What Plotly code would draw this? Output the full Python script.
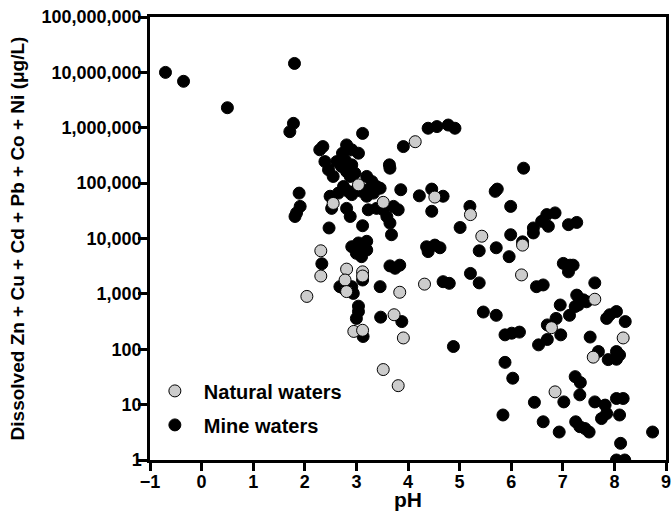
import plotly.graph_objects as go

# ---- Data ----
mine_ph = [
    -0.70, -0.35, 0.50, 1.80, 1.78, 1.71, 1.89, 1.91, 1.84, 1.81,
    2.35, 2.29, 3.12, 2.81, 2.91, 3.04, 2.73, 3.91, 2.39, 2.46,
    2.55, 2.62, 2.71, 2.78, 2.81, 2.91, 2.97, 2.88, 3.64, 3.65,
    3.20, 3.30, 3.39, 3.46, 3.33, 3.23, 2.75, 2.84, 2.65, 2.91,
    3.00, 3.10, 3.20, 3.86, 2.49, 2.52, 2.81, 2.88, 3.23, 3.39,
    3.52, 3.59, 3.65, 3.72, 3.81, 2.47, 3.12, 3.68, 2.91, 3.04,
    3.10, 3.20, 3.00, 3.13, 3.20, 3.10, 2.33, 3.65, 3.84, 3.75,
    2.68, 2.75, 2.91, 2.94, 3.12, 3.46, 3.04, 3.04, 3.00, 3.47,
    3.88, 3.13,
    4.22, 4.46, 4.68, 4.46, 4.39, 4.56, 4.78, 4.91, 4.36, 4.52,
    4.62, 4.39, 5.01, 5.20, 5.38, 5.71, 5.69, 5.73, 5.99, 5.99,
    5.96, 6.24, 6.22, 4.68, 4.80, 5.21, 5.38, 5.46, 5.71, 4.88,
    5.88, 6.01, 6.16, 5.88, 6.03, 5.84,
    6.43, 6.43, 6.59, 6.69, 6.85, 6.72, 7.11, 7.27, 6.49, 6.62,
    7.01, 7.14, 7.11, 7.20, 7.62, 6.95, 7.27, 7.33, 7.46, 7.40,
    7.30, 7.24, 7.13, 6.87, 6.70, 6.70, 6.53, 6.96, 7.85, 8.04,
    8.21, 7.91, 7.53, 7.69, 7.88, 8.04, 8.10, 8.04, 7.24, 7.34,
    7.33, 6.45, 7.02, 7.62, 7.82, 8.04, 8.17, 7.85, 7.75, 8.10,
    6.62, 6.93, 7.25, 7.33, 7.43, 7.51, 8.12, 8.04, 8.20, 8.74,
]
mine_conc = [
    10000000, 6900000, 2300000, 14500000, 1200000, 850000, 66000, 38000, 29000, 25000,
    457000, 400000, 790000, 490000, 400000, 347000, 347000, 457000, 245000, 174000,
    132000, 245000, 200000, 263000, 162000, 214000, 151000, 132000, 214000, 186000,
    132000, 107000, 87000, 81000, 66000, 76000, 87000, 71000, 66000, 62000,
    76000, 71000, 58000, 76000, 58000, 35000, 35000, 25000, 33000, 35000,
    33000, 25000, 19000, 38000, 33000, 15500, 17000, 11700, 7100, 8300,
    5800, 8900, 5400, 7600, 6200, 4700, 3500, 3200, 3300, 2900,
    1350, 1260, 1350, 1020, 1780, 1350, 600, 480, 360, 380,
    316, 170,
    59000, 78000, 58000, 31000, 980000, 1050000, 1120000, 980000, 7100, 7600,
    6800, 5800, 15800, 38000, 6000, 6800, 71000, 78000, 38000, 11700,
    4700, 186000, 8700, 1660, 1550, 2340, 1580, 470, 410, 112,
    182, 195, 204, 58, 30, 6.5,
    15500, 12600, 20400, 27000, 29000, 16600, 17800, 19500, 1350, 1450,
    3550, 3300, 2500, 3300, 1580, 630, 950, 780, 720, 780,
    630, 590, 410, 360, 275, 150, 120, 182, 360, 480,
    316, 420, 166, 91, 65, 66, 79, 91, 32, 25,
    15, 11, 11.2, 11.2, 9.8, 12.9, 12.9, 6.9, 5.6, 6.5,
    4.9, 3.2, 4.9, 4.0, 3.7, 3.2, 2.0, 1.0, 1.0, 3.2,
]

natural_ph = [
    2.55, 3.04, 3.52, 4.14, 4.52, 5.21, 5.43, 6.22, 2.31, 2.31,
    2.04, 2.81, 2.78, 2.81, 3.12, 3.12, 3.84, 4.32, 6.20, 3.73,
    3.91, 2.95, 3.12, 3.52, 3.81, 6.78, 6.85, 7.62, 7.59, 8.17,
]
natural_conc = [
    43000, 93000, 45000, 560000, 56000, 27000, 11000, 7600, 6000, 2100,
    900, 2800, 1780, 1100, 2500, 2100, 1070, 1500, 2200, 420,
    160, 210, 220, 43, 22, 245, 17, 800, 72, 160,
]

x_ticks = [-1, 0, 1, 2, 3, 4, 5, 6, 7, 8, 9]
y_ticks = [1, 10, 100, 1000, 10000, 100000, 1000000, 10000000, 100000000]
y_ticktext = ["1", "10", "100", "1,000", "10,000", "100,000",
              "1,000,000", "10,000,000", "100,000,000"]

FONT = "Liberation Sans, Arial, Helvetica, sans-serif"

fig = go.Figure()
fig.add_trace(go.Scatter(
    x=mine_ph, y=mine_conc, mode="markers", name="Mine waters",
    legendrank=2, legendgroup="m",
    marker=dict(size=12, color="black", line=dict(color="black", width=1)),
))
fig.add_trace(go.Scatter(
    x=natural_ph, y=natural_conc, mode="markers", name="Natural waters",
    legendrank=1, legendgroup="n",
    marker=dict(size=12, color="#cccccc", line=dict(color="black", width=1)),
))

fig.update_layout(
    width=672, height=516,
    margin=dict(l=150, r=6, t=17, b=56, autoexpand=False),
    paper_bgcolor="white", plot_bgcolor="white",
    font=dict(family=FONT, color="black", weight="bold"),
    showlegend=True,
    legend=dict(
        x=-0.008, y=0.2, xanchor="left", yanchor="top",
        bgcolor="rgba(0,0,0,0)",
        font=dict(size=20, family=FONT, color="black", weight="bold"),
        tracegroupgap=5, itemwidth=48,
    ),
    annotations=[dict(
        text="pH", xref="paper", yref="paper", x=0.5, y=-0.089,
        xanchor="center", yanchor="middle", showarrow=False,
        font=dict(size=21, family=FONT, color="black", weight="bold"),
    )],
)
fig.update_xaxes(
    range=[-1, 9], tickmode="array", tickvals=x_ticks,
    ticks="outside", ticklen=8, tickwidth=2.5, tickcolor="black",
    showline=True, linewidth=2.5, linecolor="black", mirror=True,
    showgrid=False, zeroline=False, ticklabelstandoff=-4,
    ticklabeloverflow="allow", automargin=False,
    tickfont=dict(size=18, family=FONT, color="black", weight="bold"),
)
fig.update_yaxes(
    type="log", range=[0, 8.0001], tickmode="array",
    tickvals=y_ticks, ticktext=y_ticktext,
    ticks="outside", ticklen=9, tickwidth=2.5, tickcolor="black",
    showline=True, linewidth=2.5, linecolor="black", mirror=True,
    showgrid=False, zeroline=False, ticklabelstandoff=-7,
    ticklabeloverflow="allow", automargin=False,
    tickfont=dict(size=18, family=FONT, color="black", weight="bold"),
    title=dict(text="Dissolved Zn + Cu + Cd + Pb + Co + Ni (μg/L)", standoff=12,
               font=dict(size=19, family=FONT, color="black", weight="bold")),
)

# remove the browser's default body margin so the 672x516 figure fills the window
fig.write_html(
    "out.html",
    config=dict(displayModeBar=False),
    post_script="document.body.style.margin='0px';document.body.style.overflow='hidden';",
)
